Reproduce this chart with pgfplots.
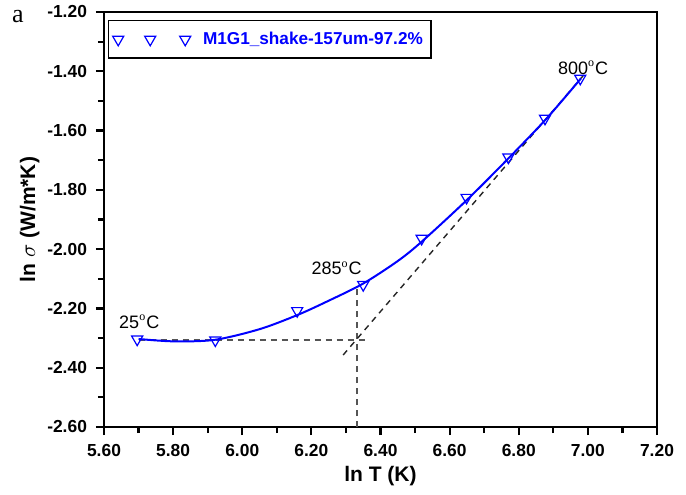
\documentclass[border=0pt]{standalone}
\usepackage{fontspec}
\setmainfont{Liberation Serif}
\setsansfont{Liberation Sans}
\usepackage{pgfplots}
\pgfplotsset{compat=1.18}
\definecolor{dgray}{RGB}{85,85,85}
\begin{document}
\begin{tikzpicture}
\path[use as bounding box] (-52pt,-33.5pt) rectangle (291pt,213.5pt);
\begin{axis}[
  scale only axis,
  width=276.5pt, height=207.5pt,
  xmin=5.6, xmax=7.2, ymin=-2.6, ymax=-1.2,
  xtick={5.6,5.8,...,7.21}, ytick={-2.6,-2.4,...,-1.19},
  minor tick num=1,
  tick align=outside,
  major tick length=4pt, minor tick length=3pt,
  axis line style={line width=1.2pt},
  every tick/.style={line width=1.1pt, black},
  xtick pos=bottom, ytick pos=left,
  /pgf/number format/.cd, fixed, fixed zerofill, precision=2, assume math mode=true,
  /pgfplots/.cd,
  tick label style={font=\sffamily\bfseries\fontsize{8.7}{10}\selectfont},
  xticklabel style={yshift=-1pt},
  yticklabel style={xshift=-1pt},
  xlabel={\sffamily\bfseries\fontsize{10.5}{12}\selectfont ln T (K)},
  ylabel={\sffamily\bfseries\fontsize{10.5}{12}\selectfont ln $\sigma$ (W/m*K)},
  xlabel style={yshift=2pt},
  ylabel style={yshift=-3pt},
  legend style={at={(0.007,0.981)}, anchor=north west, draw=black, line width=0.8pt,
    font=\sffamily\bfseries\fontsize{8.6}{10}\selectfont, text=blue,
    inner xsep=2pt, inner ysep=3.5pt},
  legend cell align=left,
  legend image code/.code={\draw[#1, only marks] plot coordinates {(2pt,0pt) (18pt,0pt) (35.5pt,0pt)};
    \path (42pt,0pt);},
  clip=false,
]
% dashed guide lines
\addplot[dgray, dashed, dash pattern=on 3pt off 2.5pt, line width=0.7pt, forget plot] coordinates {(5.70,-2.307) (6.36,-2.307)};
\addplot[dgray, dashed, dash pattern=on 3pt off 2.5pt, line width=0.7pt, forget plot] coordinates {(6.332,-2.6) (6.332,-2.122)};
\addplot[black!85, dashed, dash pattern=on 3pt off 2.5pt, line width=0.7pt, forget plot] coordinates {(6.292,-2.357) (6.99,-1.41)};
% fitted curve
\addplot[blue, line width=1pt, smooth, forget plot] coordinates {
(5.70,-2.303) (5.80,-2.311) (5.92,-2.306) (6.05,-2.27) (6.16,-2.222) (6.25,-2.174)
(6.35,-2.116) (6.45,-2.040) (6.52,-1.974) (6.65,-1.834) (6.77,-1.694) (6.88,-1.560) (6.98,-1.424)};
% data
\addplot[blue, only marks, mark=triangle, mark size=3.2pt, mark options={rotate=180, line width=0.6pt, fill=white}] coordinates {
(5.696,-2.304) (5.922,-2.307) (6.159,-2.208) (6.350,-2.120) (6.519,-1.964)
(6.649,-1.826) (6.770,-1.690) (6.876,-1.559) (6.978,-1.424)};
\addlegendentry{M1G1\_shake-157um-97.2\%}
% annotations
\node[font=\sffamily\fontsize{9}{10}\selectfont] at (axis cs:5.702,-2.246) {25$^{\mathrm{o}}$C};
\node[font=\sffamily\fontsize{9}{10}\selectfont] at (axis cs:6.273,-2.064) {285$^{\mathrm{o}}$C};
\node[font=\sffamily\fontsize{9}{10}\selectfont] at (axis cs:6.986,-1.389) {800$^{\mathrm{o}}$C};
\end{axis}
\node[font=\fontsize{13}{14}\selectfont] at (-43pt,205pt) {a};
\end{tikzpicture}
\end{document}
